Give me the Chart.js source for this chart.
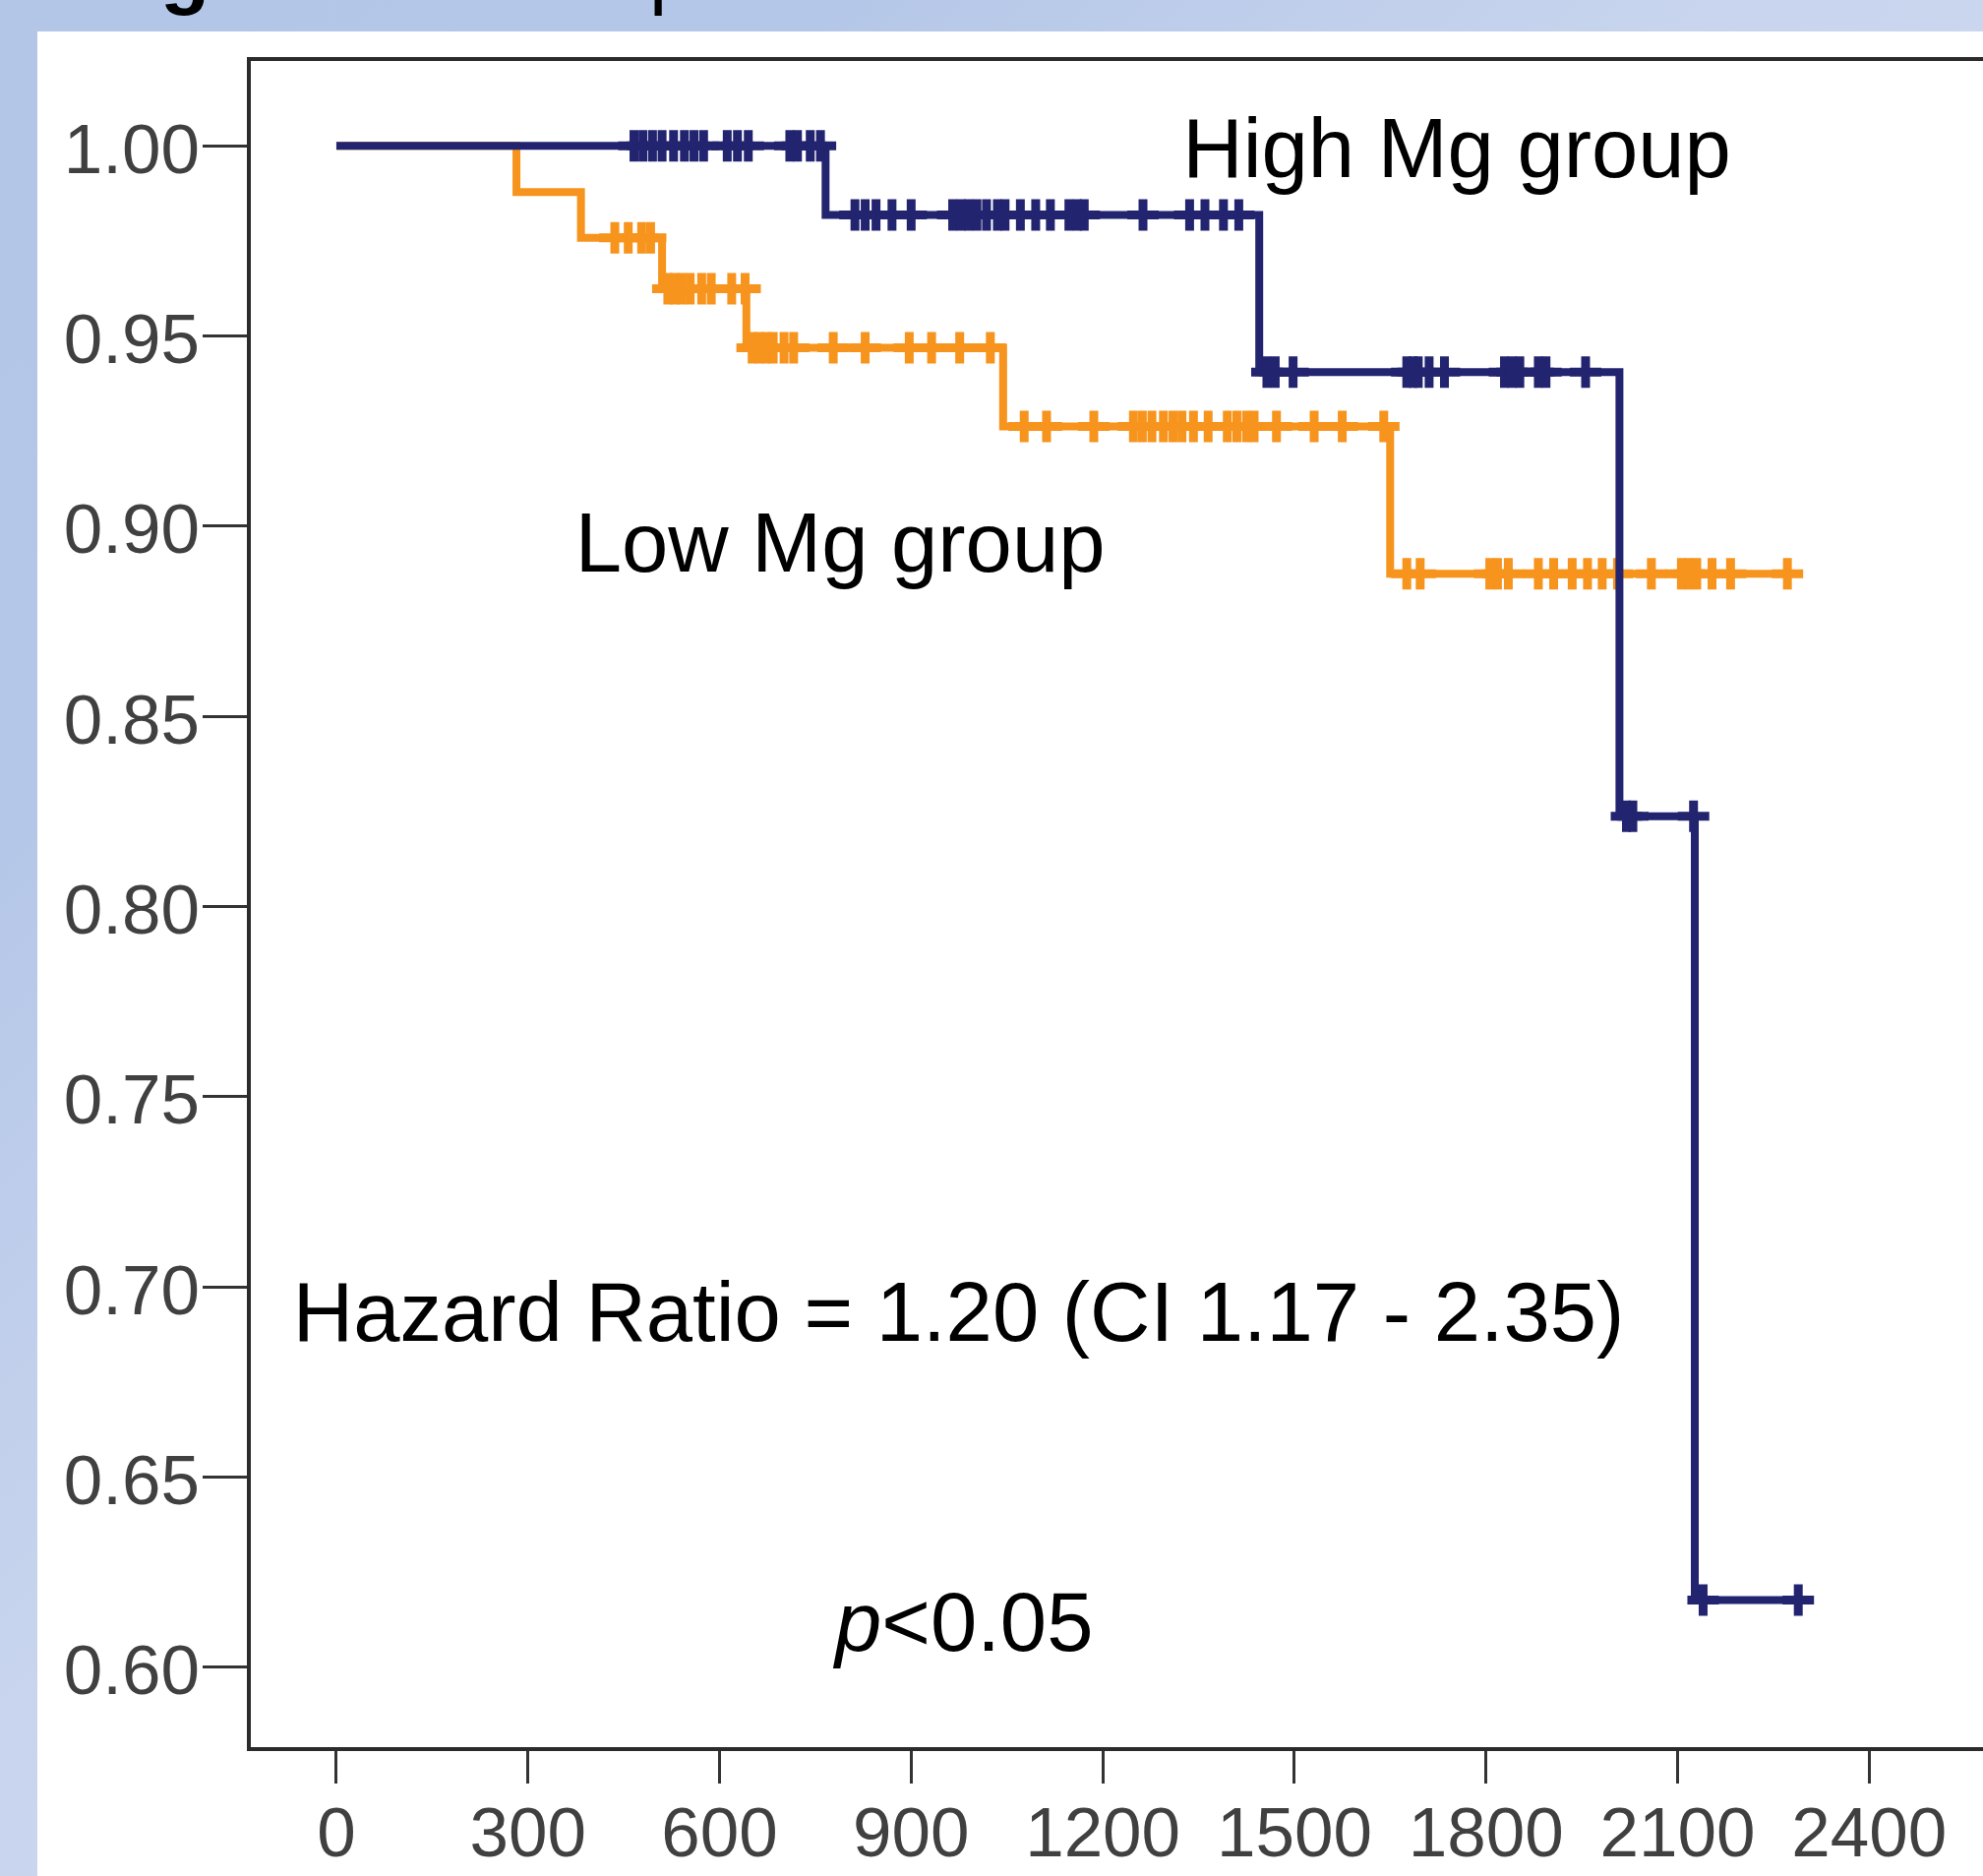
<!DOCTYPE html>
<html>
<head>
<meta charset="utf-8">
<title>Kaplan-Meier High / Low Mg</title>
<script src="https://cdn.jsdelivr.net/npm/chart.js@4.4.1/dist/chart.umd.min.js"></script>
<style>
  html, body { margin: 0; padding: 0; width: 2016px; height: 1907px; overflow: hidden; }
  body {
    position: relative;
    background: linear-gradient(135deg, #b3c6e7 0%, #b5c7e8 22%, #c9d5ee 45%, #d2ddf2 100%);
    font-family: "Liberation Sans", Arial, sans-serif;
  }
  /* weisses Feld hinter dem Diagramm */
  #feld { position: absolute; left: 38px; top: 32px; right: 0; bottom: 0; background: #fff; }
  /* abgeschnittene Reste der Folienueberschrift */
  .rest { position: absolute; top: -70px; font-size: 82px; font-weight: bold; color: #000; line-height: 1; }
  canvas { position: absolute; left: 0; top: 0; }
</style>
</head>
<body>
<div id="feld"></div>
<span class="rest" style="left:163px">g</span>
<span class="rest" style="left:660px; font-weight:normal">p</span>
<canvas id="kmChart" width="2100" height="1907" style="width:2100px;height:1907px"></canvas>
<script>
/**** Daten ****/
/* Zeitpunkte (Tage) der Ereignisse und Ueberlebensrate danach, letzter Punkt = Ende der Beobachtung */
const highMgZeiten = [0, 766, 1445, 2009, 2127, 2289];
const highMgWerte  = [1.00, 0.9818, 0.9405, 0.8237, 0.6177, 0.6177];
const lowMgZeiten  = [0, 282, 383, 510, 642, 1044, 1650, 2272];
const lowMgWerte   = [1.00, 0.9878, 0.9758, 0.9624, 0.9469, 0.9262, 0.8875, 0.8875];

/* zensierte Faelle, je Stufe (Index passt zu den Werten oben) */
const highMgZensiert = [
    [466, 480, 495, 510, 528, 545, 560, 575, 612, 628, 645, 710, 722, 742, 758],
    [812, 828, 845, 870, 900, 965, 978, 990, 1003, 1018, 1035, 1047, 1071, 1095, 1118, 1147, 1160, 1171, 1263, 1336, 1360, 1389, 1413],
    [1457, 1470, 1498, 1676, 1686, 1694, 1711, 1735, 1829, 1841, 1853, 1882, 1894, 1956],
    [2020, 2030, 2125],
    [2140, 2289]
];
const lowMgZensiert = [
    [],
    [],
    [436, 457, 478, 492],
    [519, 530, 541, 554, 572, 587, 619, 640],
    [651, 662, 673, 684, 701, 716, 778, 828, 897, 932, 976, 1024],
    [1077, 1112, 1186, 1248, 1262, 1277, 1295, 1310, 1324, 1342, 1365, 1395, 1410, 1425, 1437, 1472, 1531, 1575, 1640],
    [1676, 1697, 1806, 1818, 1835, 1882, 1906, 1935, 1959, 1982, 2006, 2059, 2106, 2118, 2130, 2154, 2183, 2272]
];

/* Achsenbeschriftungen */
const xTicks = [0, 300, 600, 900, 1200, 1500, 1800, 2100, 2400];
const yTicks = [0.60, 0.65, 0.70, 0.75, 0.80, 0.85, 0.90, 0.95, 1.00];

/* Texte im Diagramm (Position in Achsen-Einheiten: Tage / Rate, linke Grundlinie) */
const beschriftungen = [
    { teile: [{ text: 'High Mg group' }], x: 1325, y: 0.9917 },
    { teile: [{ text: 'Low Mg group' }], x: 374, y: 0.888 },
    { teile: [{ text: 'Hazard Ratio = 1.20 (CI 1.17 - 2.35)' }], x: -68, y: 0.6859 },
    { teile: [{ text: 'p', kursiv: true }, { text: '<0.05' }], x: 781, y: 0.6044 }
];

const farbeHigh = '#232470';
const farbeLow = '#f7941d';

/* Punkte fuer die Stufenlinie */
function linie(zeiten, werte) {
    return zeiten.map((t, i) => ({ x: t, y: werte[i] }));
}
/* Kreuze fuer zensierte Faelle auf der jeweiligen Stufe */
function kreuze(zensiert, werte) {
    const data = [];
    zensiert.forEach((stufe, i) => {
        stufe.forEach(t => data.push({ x: t, y: werte[i] }));
    });
    return data;
}

/* Rahmen um die Zeichenflaeche */
const rahmenPlugin = {
    id: 'rahmen',
    beforeDatasetsDraw(chart) {
        const { ctx, chartArea: a } = chart;
        ctx.save();
        ctx.strokeStyle = '#2b2b2b';
        ctx.lineWidth = 4;
        ctx.strokeRect(a.left, a.top, a.right - a.left, a.bottom - a.top);
        ctx.restore();
    }
};

/* Beschriftungen ueber die Skalen platzieren */
const textPlugin = {
    id: 'beschriftung',
    afterDatasetsDraw(chart) {
        const { ctx } = chart;
        const sx = chart.scales.x, sy = chart.scales.y;
        ctx.save();
        ctx.fillStyle = '#000';
        ctx.textAlign = 'left';
        ctx.textBaseline = 'alphabetic';
        beschriftungen.forEach(b => {
            let px = sx.getPixelForValue(b.x);
            const py = sy.getPixelForValue(b.y);
            b.teile.forEach(t => {
                ctx.font = (t.kursiv ? 'italic ' : '') + '85px "Liberation Sans", Arial, sans-serif';
                ctx.fillText(t.text, px, py);
                px += ctx.measureText(t.text).width;
            });
        });
        ctx.restore();
    }
};

const achsenSchrift = { family: '"Liberation Sans", Arial, sans-serif', size: 71 };

new Chart(document.getElementById('kmChart').getContext('2d'), {
    type: 'line',
    data: {
        datasets: [
            {
                label: 'High Mg zensiert',
                type: 'scatter',
                data: kreuze(highMgZensiert, highMgWerte),
                showLine: false,
                pointStyle: 'cross',
                pointRadius: 16,
                borderColor: farbeHigh,
                borderWidth: 9
            },
            {
                label: 'High Mg group',
                data: linie(highMgZeiten, highMgWerte),
                stepped: 'before',
                borderColor: farbeHigh,
                borderWidth: 8,
                pointRadius: 0,
                fill: false
            },
            {
                label: 'Low Mg zensiert',
                type: 'scatter',
                data: kreuze(lowMgZensiert, lowMgWerte),
                showLine: false,
                pointStyle: 'cross',
                pointRadius: 16,
                borderColor: farbeLow,
                borderWidth: 9
            },
            {
                label: 'Low Mg group',
                data: linie(lowMgZeiten, lowMgWerte),
                stepped: 'before',
                borderColor: farbeLow,
                borderWidth: 8,
                pointRadius: 0,
                fill: false
            }
        ]
    },
    options: {
        responsive: false,
        devicePixelRatio: 1,
        animation: false,
        layout: { padding: { top: 60, right: 40, left: 0, bottom: 0 } },
        plugins: { legend: { display: false }, tooltip: { enabled: false } },
        scales: {
            x: {
                type: 'linear',
                min: -137,
                max: 2646,
                afterBuildTicks: axis => { axis.ticks = xTicks.map(v => ({ value: v })); },
                afterFit: axis => { axis.height = 129; },
                grid: { drawOnChartArea: false, drawTicks: true, tickLength: 35, color: '#333', lineWidth: 3 },
                border: { display: false },
                ticks: {
                    font: achsenSchrift, color: '#404040', padding: 12, maxRotation: 0, autoSkip: false,
                    callback: v => String(v)
                }
            },
            y: {
                type: 'linear',
                min: 0.5785,
                max: 1.0228,
                afterBuildTicks: axis => { axis.ticks = yTicks.map(v => ({ value: v })); },
                afterFit: axis => { axis.width = 253; },
                grid: { drawOnChartArea: false, drawTicks: true, tickLength: 47, color: '#333', lineWidth: 3 },
                border: { display: false },
                ticks: {
                    font: achsenSchrift, color: '#404040', padding: 3, labelOffset: 8, autoSkip: false,
                    callback: v => Number(v).toFixed(2)
                }
            }
        }
    },
    plugins: [rahmenPlugin, textPlugin]
});
</script>
</body>
</html>
